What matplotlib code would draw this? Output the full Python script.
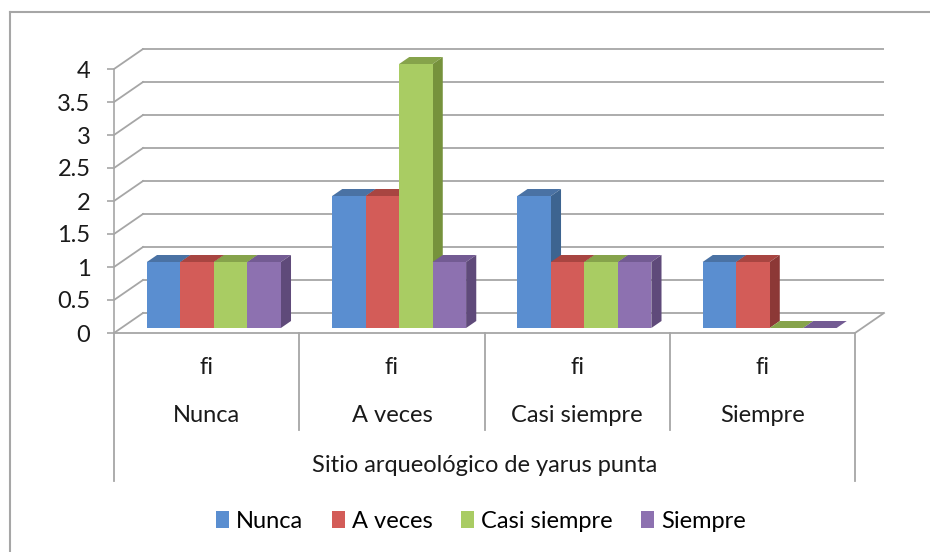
import matplotlib
matplotlib.use("Agg")
import matplotlib.pyplot as plt
from matplotlib.patches import Polygon, Patch
from matplotlib.lines import Line2D
import numpy as np

# data
categories = ["Nunca", "A veces", "Casi siempre", "Siempre"]
sub_label = "fi"
axis_title = "Sitio arqueológico de yarus punta"
series_names = ["Nunca", "A veces", "Casi siempre", "Siempre"]
nunca = [1, 2, 2, 1]
a_veces = [1, 2, 1, 1]
casi_siempre = [1, 4, 1, 0]
siempre = [1, 1, 1, 0]
yticks = [0, 0.5, 1, 1.5, 2, 2.5, 3, 3.5, 4]

# face colours: front, side, top
front_cols = ["#5A8ED0", "#D35C58", "#A9CC63", "#8D71B0"]
side_cols = ["#3D6490", "#8C3836", "#76923C", "#5F4A7A"]
top_cols = ["#4A72A4", "#A84541", "#86A34B", "#735B93"]

plt.rcParams['font.family'] = ['Lato', 'DejaVu Sans']
FS = 17
GRID = "#A6A6A6"

W, H = 930, 552
fig = plt.figure(figsize=(W / 100, H / 100), dpi=100)

# pixel layout of front plane
x0, x1, yb, yt = 114, 884, 333, 48
ax = fig.add_axes([x0 / W, (H - yb) / H, (x1 - x0) / W, (yb - yt) / H])
px_x = 741 / 4.0
px_y = 66.0
ddx = 29 / px_x
ddy = 20 / px_y
ax.set_xlim(-0.5, 3.5 + ddx)
ax.set_ylim(0, (yb - yt) / px_y)

for s in ["top", "right", "bottom"]:
    ax.spines[s].set_visible(False)
ax.spines["left"].set_color(GRID)
ax.spines["left"].set_linewidth(1.2)
ax.spines["left"].set_bounds(0, 4)
ax.set_xticks([])
ax.set_yticks(yticks)
ax.set_yticklabels([f"{v:g}" for v in yticks], fontsize=FS, color="#1a1a1a")
ax.tick_params(axis="y", length=5, width=1.2, color=GRID, pad=12)
ax.patch.set_visible(False)

# back wall gridlines + side wall diagonals
for v in yticks:
    ax.plot([-0.5 + ddx, 3.5 + ddx], [v + ddy, v + ddy], color=GRID, lw=1.3, zorder=1)
    ax.plot([-0.5, -0.5 + ddx], [v, v + ddy], color=GRID, lw=1.3, zorder=1)

# floor front edge and right edge
ax.plot([-0.5, 3.5], [0, 0], color=GRID, lw=1.3, zorder=1, clip_on=False)
ax.plot([3.5, 3.5 + ddx], [0, ddy], color=GRID, lw=1.3, zorder=1, clip_on=False)

# bars
values = [nunca, a_veces, casi_siempre, siempre]
bw = 0.1808
shift = 0.25
depth = 0.35
sx, sy = shift * ddx, shift * ddy
bx, by = depth * ddx, depth * ddy
for ci in range(len(categories)):
    for si, vals in enumerate(values):
        v = vals[ci]
        left = ci - 2 * bw + si * bw + sx
        right = left + bw
        bot = sy
        top = v + sy
        topface = [(left, top), (right, top), (right + bx, top + by), (left + bx, top + by)]
        ax.add_patch(Polygon(topface, closed=True, fc=top_cols[si], ec="none", zorder=3))
        if v > 0:
            side = [(right, bot), (right + bx, bot + by), (right + bx, top + by), (right, top)]
            ax.add_patch(Polygon(side, closed=True, fc=side_cols[si], ec="none", zorder=3))
            front = [(left, bot), (right, bot), (right, top), (left, top)]
            ax.add_patch(Polygon(front, closed=True, fc=front_cols[si], ec="none", zorder=3))

# category axis table below
inner_y = -(430 - yb) / px_y
outer_y = -(481 - yb) / px_y
for b in range(len(categories) + 1):
    ylow = outer_y if b in (0, len(categories)) else inner_y
    ax.plot([b - 0.5, b - 0.5], [0, ylow], color=GRID, lw=1.3, clip_on=False)
for ci, name in enumerate(categories):
    ax.text(ci, -(367 - yb) / px_y, sub_label, ha="center", va="center", fontsize=FS, color="#1a1a1a")
    ax.text(ci, -(415 - yb) / px_y, name, ha="center", va="center", fontsize=FS, color="#1a1a1a")
ax.text(1.5, -(465 - yb) / px_y, axis_title, ha="center", va="center", fontsize=FS, color="#1a1a1a")

# legend
handles = [Patch(facecolor=c, edgecolor="none") for c in front_cols]
fig.legend(handles, series_names, loc="center", bbox_to_anchor=(481 / W, 1 - 521 / H),
           ncol=4, frameon=False, fontsize=FS, handlelength=0.55, handleheight=0.75,
           handletextpad=0.3, columnspacing=1.2)

# chart border (left and top edges visible)
fig.add_artist(Line2D([10 / W, 10 / W], [0, 1 - 12 / H], color=GRID, lw=1.5))
fig.add_artist(Line2D([10 / W, 1], [1 - 12 / H, 1 - 12 / H], color=GRID, lw=1.5))

fig.savefig("out.png", dpi=100)
